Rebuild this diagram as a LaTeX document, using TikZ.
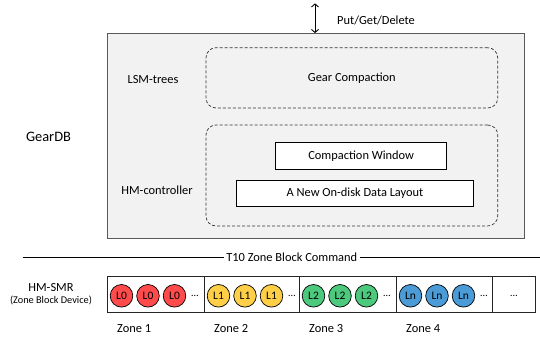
\documentclass[tikz,border=0pt]{standalone}
\usepackage{fontspec}
\setmainfont{Carlito}
\usetikzlibrary{arrows.meta}
\definecolor{cred}{HTML}{FF4B4B}
\definecolor{cyel}{HTML}{FFD047}
\definecolor{cgrn}{HTML}{4DC97E}
\definecolor{cblu}{HTML}{4A9BD6}
\definecolor{cbg}{HTML}{F2F2F2}
\definecolor{cframe}{HTML}{595959}
\begin{document}
\begin{tikzpicture}[x=1pt,y=-1pt,
  lbl/.style={font=\fontsize{12.4}{14}\selectfont, inner sep=0pt},
  big/.style={font=\fontsize{14.4}{16}\selectfont, inner sep=0pt},
  small/.style={font=\fontsize{10.3}{12}\selectfont, inner sep=0pt},
  frame/.style={draw=cframe, line width=0.9pt, fill=cbg, inner sep=0pt},
  dbox/.style={draw=black!80, line width=0.7pt, dash pattern=on 3pt off 2pt, rounded corners=10pt, inner sep=0pt},
  sbox/.style={draw=black, line width=0.7pt, fill=white, inner sep=0pt, font=\fontsize{12.4}{14}\selectfont},
  cell/.style={draw=black!85, line width=0.8pt, inner sep=0pt, minimum height=36.7pt},
  ball/.style={circle, draw=black, line width=0.7pt, minimum size=22.6pt, inner sep=0pt, font=\fontsize{11.5}{13}\selectfont},
  arr/.style={{Straight Barb[length=3pt,width=7pt]}-{Straight Barb[length=3pt,width=7pt]}, line width=0.9pt}
]
\useasboundingbox (0,0) rectangle (540,339);

% GearDB frame
\node[frame, minimum width=417pt, minimum height=205.2pt] (outer) at (316,136.1) {};
\node[dbox, minimum width=291.7pt, minimum height=60.3pt] (lsm) at (351.85,77.85) {};
\node[dbox, minimum width=291.7pt, minimum height=101pt] (hmc) at (351.85,175.5) {};
\node[lbl] (gc) at (351.85,78.5) {Gear Compaction};
\node[sbox, minimum width=171pt, minimum height=26.3pt] (cw) at (361.2,155.85) {Compaction Window};
\node[sbox, minimum width=236.6pt, minimum height=26pt] (lay) at (355,193) {A New On-disk Data Layout};
\node[lbl] (lsmlbl) at (153,79.3) {LSM-trees};
\node[lbl] (hmlbl) at (157,190) {HM-controller};
\node[big] (gdb) at (48.5,137.3) {GearDB};

% top arrow
\coordinate (top) at (315,3.4);
\draw[arr] (top) -- (top |- outer.north);
\node[lbl, anchor=west] (pgd) at (337,20.7) {Put/Get/Delete};

% T10 line
\node[lbl, inner sep=2.5pt] (t10) at (291.8,257.6) {T10 Zone Block Command};
\coordinate (ll) at (22.7,257.3);
\coordinate (lr) at (540,257.3);
\draw[line width=0.8pt] (ll) -- (ll -| t10.west);
\draw[line width=0.8pt] (t10.east |- lr) -- (lr);

% HM-SMR
\node[lbl] (smr) at (51,287.7) {HM-SMR};
\node[small] (zbd) at (51,300.5) {(Zone Block Device)};

% zones
\node[cell, minimum width=97pt] (z1) at (155.5,294.35) {};
\node[cell, minimum width=95pt] (z2) at (251.5,294.35) {};
\node[cell, minimum width=97pt] (z3) at (347.5,294.35) {};
\node[cell, minimum width=96pt] (z4) at (444,294.35) {};
\node[cell, minimum width=43.7pt] (z5) at (513.85,294.35) {};
\node[small, anchor=base] (d5) at (513.85,296) {…};

\foreach \zx/\zn/\col/\lab in {107/1/cred/L0, 204/2/cyel/L1, 299/3/cgrn/L2, 396/4/cblu/Ln}{
  \node[ball, fill=\col] (b\zn a) at (\zx+14.5,295.8) {\lab};
  \node[ball, fill=\col] (b\zn b) at (\zx+41,295.8) {\lab};
  \node[ball, fill=\col] (b\zn c) at (\zx+67.5,295.8) {\lab};
  \node[small, anchor=base] (d\zn) at (\zx+88,296) {…};
  \node[lbl, anchor=west] (zl\zn) at (\zx+10,328.3) {Zone \zn};
}
\end{tikzpicture}
\end{document}
